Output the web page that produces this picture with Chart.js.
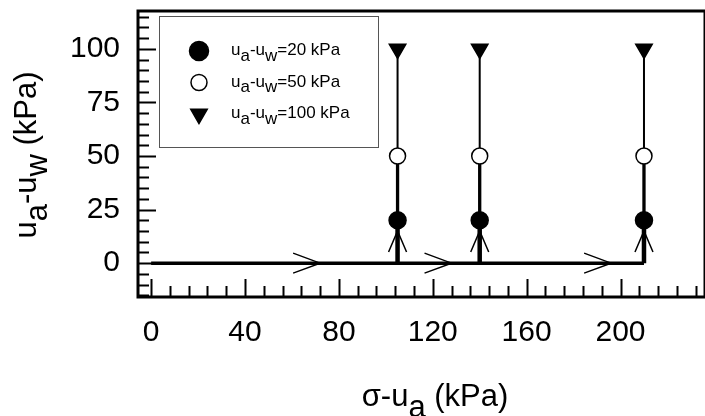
<!DOCTYPE html>
<html>
<head>
<meta charset="utf-8">
<script src="https://cdn.jsdelivr.net/npm/chart.js@4.4.0/dist/chart.umd.min.js"></script>
<style>
  html, body { margin: 0; padding: 0; background: #fff; overflow: hidden; }
  #wrap { position: relative; width: 716px; height: 416px; }
</style>
</head>
<body>
<div id="wrap"><canvas id="grafico"></canvas></div>
<script>
// net stress (σ-ua, kPa) where suction is raised
const stressPoints = [105, 140, 210];
// suction levels (ua-uw, kPa)
const suctions = [20, 50, 100];
const suctionLabels = ['20 kPa', '50 kPa', '100 kPa'];
// loading path along zero suction
const pathStart = 0;
// arrow tips on the paths
const hArrows = [72, 128, 196];
const vArrowSuction = 15;
// tick labels
const xTicks = [0, 40, 80, 120, 160, 200];
const yTicks = [0, 25, 50, 75, 100];
const xMinorStep = 8;
const yMinorStep = 5;

const font = '"Liberation Sans", Arial, Helvetica, sans-serif';
const markerStyles = [
  { pointStyle: 'circle', radius: 8.5, fill: '#000', rotation: 0 },
  { pointStyle: 'circle', radius: 8, fill: '#fff', rotation: 0 },
  { pointStyle: 'triangle', radius: 9.5, fill: '#000', rotation: 180 }
];
const segWidths = [4.5, 3.3, 2];

// vertical segments 0->20, 20->50, 50->100 with gaps between paths
function segment(k) {
  const from = k === 0 ? 0 : suctions[k - 1];
  const pts = [];
  stressPoints.forEach(x => {
    pts.push({ x, y: from }, { x, y: suctions[k] }, { x, y: null });
  });
  return pts;
}

const datasets = [];
suctions.forEach((s, i) => {
  const m = markerStyles[i];
  datasets.push({
    label: 'ua-uw=' + suctionLabels[i],
    data: stressPoints.map(x => ({ x, y: s })),
    pointStyle: m.pointStyle,
    pointRadius: m.radius,
    pointRotation: m.rotation,
    backgroundColor: m.fill,
    borderColor: '#000',
    borderWidth: 1.5,
    showLine: false,
    order: 0
  });
});
suctions.forEach((s, k) => {
  datasets.push({
    data: segment(k),
    showLine: true,
    spanGaps: false,
    pointRadius: 0,
    borderColor: '#000',
    borderWidth: segWidths[k],
    order: 2
  });
});
datasets.push({
  data: [{ x: pathStart, y: 0 }, { x: Math.max(...stressPoints), y: 0 }],
  showLine: true,
  pointRadius: 0,
  borderColor: '#000',
  borderWidth: 3.5,
  order: 2
});

function drawRich(ctx, parts, x, y, size, align) {
  ctx.font = size + 'px ' + font;
  let total = 0;
  parts.forEach(p => { total += ctx.measureText(p[0]).width; });
  let cx = align === 'center' ? x - total / 2 : x;
  ctx.textAlign = 'left';
  ctx.textBaseline = 'alphabetic';
  parts.forEach(([t, sub]) => {
    ctx.fillText(t, cx, y + (sub ? size * 0.35 : 0));
    cx += ctx.measureText(t).width;
  });
}

const decor = {
  id: 'decor',
  beforeDatasetsDraw(chart) {
    const { ctx, chartArea: a, scales: { x, y } } = chart;
    ctx.save();
    ctx.strokeStyle = '#000';
    // inward ticks
    ctx.lineWidth = 2;
    ctx.beginPath();
    for (let v = Math.ceil(x.min / xMinorStep) * xMinorStep; v <= x.max; v += xMinorStep) {
      const px = Math.round(x.getPixelForValue(v)) + 0.5;
      const len = xTicks.includes(v) ? 18 : 11;
      ctx.moveTo(px, a.bottom);
      ctx.lineTo(px, a.bottom - len);
    }
    for (let v = Math.ceil(y.min / yMinorStep) * yMinorStep; v <= y.max; v += yMinorStep) {
      const py = Math.round(y.getPixelForValue(v)) + 0.5;
      const len = yTicks.includes(v) ? 18 : 11;
      ctx.moveTo(a.left, py);
      ctx.lineTo(a.left + len, py);
    }
    ctx.stroke();
    // arrows
    ctx.lineWidth = 1.5;
    ctx.beginPath();
    hArrows.forEach(v => {
      const px = x.getPixelForValue(v), py = y.getPixelForValue(0);
      ctx.moveTo(px - 27, py - 10);
      ctx.lineTo(px, py);
      ctx.lineTo(px - 27, py + 10);
    });
    stressPoints.forEach(v => {
      const px = x.getPixelForValue(v), py = y.getPixelForValue(vArrowSuction);
      ctx.moveTo(px - 9, py + 21);
      ctx.lineTo(px, py);
      ctx.lineTo(px + 9, py + 21);
    });
    ctx.stroke();
    ctx.restore();
  },
  afterDraw(chart) {
    const { ctx, chartArea: a } = chart;
    ctx.save();
    // frame
    ctx.strokeStyle = '#000';
    ctx.lineWidth = 3;
    ctx.strokeRect(a.left, a.top, a.right - a.left, a.bottom - a.top);
    // legend box
    const lx = a.left + 21, ly = a.top + 5;
    ctx.fillStyle = '#fff';
    ctx.fillRect(lx, ly, 219, 131);
    ctx.strokeStyle = '#555';
    ctx.lineWidth = 1;
    ctx.strokeRect(lx + 0.5, ly + 0.5, 219, 131);
    suctions.forEach((s, i) => {
      const m = markerStyles[i];
      const cy = ly + 35 + i * 31.5;
      ctx.fillStyle = m.fill;
      ctx.strokeStyle = '#000';
      ctx.lineWidth = 1.5;
      Chart.helpers.drawPoint(ctx, {
        pointStyle: m.pointStyle,
        radius: i === 0 ? 9.5 : m.radius,
        rotation: m.rotation,
        borderWidth: 1.5
      }, lx + 40, cy);
      ctx.fillStyle = '#000';
      drawRich(ctx, [['u'], ['a', 1], ['-u'], ['w', 1], ['=' + suctionLabels[i]]], lx + 72, cy + 4, 17, 'left');
    });
    // axis titles
    ctx.fillStyle = '#000';
    drawRich(ctx, [['σ-u'], ['a', 1], [' (kPa)']], a.left + 297, 406, 31, 'center');
    ctx.save();
    ctx.translate(36, (a.top + a.bottom) / 2 + 1);
    ctx.rotate(-Math.PI / 2);
    drawRich(ctx, [['u'], ['a', 1], ['-u'], ['w', 1], [' (kPa)']], 0, 0, 31, 'center');
    ctx.restore();
    ctx.restore();
  }
};

new Chart(document.getElementById('grafico'), {
  type: 'scatter',
  data: { datasets },
  plugins: [decor],
  options: {
    responsive: true,
    maintainAspectRatio: false,
    animation: false,
    devicePixelRatio: 1,
    layout: { padding: { top: 10, left: 0, right: 0, bottom: 0 } },
    plugins: { legend: { display: false }, tooltip: { enabled: false } },
    scales: {
      x: {
        type: 'linear', min: -5.6, max: 236,
        grid: { display: false, drawTicks: false }, border: { display: false },
        ticks: { color: '#000', padding: 18, font: { size: 30, family: font } },
        afterBuildTicks: s => { s.ticks = xTicks.map(v => ({ value: v })); },
        afterFit: s => { s.height = 119; s.paddingLeft = 0; s.paddingRight = 0; }
      },
      y: {
        type: 'linear', min: -15.8, max: 117.7,
        grid: { display: false, drawTicks: false }, border: { display: false },
        ticks: { color: '#000', padding: 18, font: { size: 30, family: font } },
        afterBuildTicks: s => { s.ticks = yTicks.map(v => ({ value: v })); },
        afterFit: s => { s.width = 138; s.paddingTop = 0; s.paddingBottom = 0; }
      }
    }
  }
});
</script>
</body>
</html>
